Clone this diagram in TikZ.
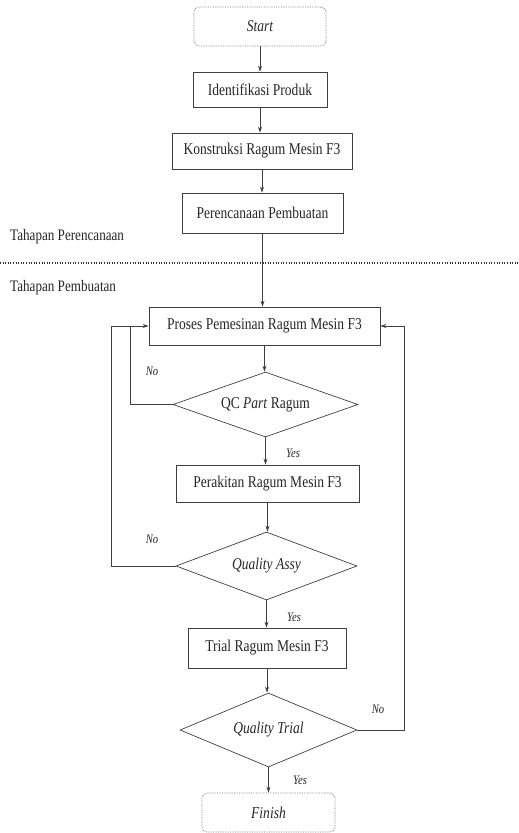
\documentclass[tikz,border=0pt]{standalone}
\usepackage{fontspec}
\setmainfont[FakeStretch=0.82]{Liberation Serif}
\usetikzlibrary{shapes.geometric,arrows.meta}
\begin{document}
\begin{tikzpicture}[x=1pt,y=-1pt,
  every node/.style={text=black!85},
  box/.style={draw=black!75,line width=0.7pt,inner sep=0pt,font=\fontsize{16.5}{18}\selectfont},
  term/.style={box,rounded corners=5pt,draw=black!55,densely dotted},
  dec/.style={box,diamond,aspect=2.8},
  lbl/.style={font=\fontsize{13}{14}\selectfont\itshape,inner sep=0pt},
  side/.style={font=\fontsize{16}{18}\selectfont,inner sep=0pt,anchor=west},
  flow/.style={draw=black!75,line width=0.7pt,-{Stealth[length=6pt,width=4pt]}},
  plain/.style={draw=black!75,line width=0.7pt}]
\useasboundingbox (0,0) rectangle (519,833);
% nodes
\node[term,minimum width=132pt,minimum height=39pt] (start) at (260,26.5) {\itshape Start};
\node[box,minimum width=134pt,minimum height=35pt] (iden) at (260,89.5) {Identifikasi Produk};
\node[box,minimum width=180pt,minimum height=36pt] (kons) at (262,151) {Konstruksi Ragum Mesin F3};
\node[box,minimum width=161pt,minimum height=40pt] (renc) at (262.5,213) {Perencanaan Pembuatan};
\node[box,minimum width=231pt,minimum height=38pt] (pros) at (264.5,326) {Proses Pemesinan Ragum Mesin F3};
\node[dec,minimum width=185pt,minimum height=65pt] (qc) at (265.5,404.5) {QC \textit{Part} Ragum};
\node[box,minimum width=183pt,minimum height=37pt] (rak) at (267.5,483.5) {Perakitan Ragum Mesin F3};
\node[dec,minimum width=181pt,minimum height=68pt] (assy) at (266.5,566) {\itshape Quality Assy};
\node[box,minimum width=158pt,minimum height=40pt] (trial) at (267,648) {Trial Ragum Mesin F3};
\node[dec,minimum width=177pt,minimum height=74pt] (qt) at (268.5,730) {\itshape Quality Trial};
\node[term,minimum width=133pt,minimum height=39pt] (fin) at (268.5,812.5) {\itshape Finish};
% stage labels and divider
\node[side] (tp1) at (10,237) {Tahapan Perencanaan};
\node[side] (tp2) at (10,288) {Tahapan Pembuatan};
\coordinate (dl) at (0,263);
\coordinate (dr) at (519,263);
\draw[black!80,line width=1.1pt,dash pattern=on 1pt off 1.6pt] (dl) -- (dr);
% main flow (kept vertical)
\draw[flow] (start.south) -- (start.south |- iden.north);
\draw[flow] (iden.south) -- (iden.south |- kons.north);
\draw[flow] (kons.south) -- (kons.south |- renc.north);
\draw[flow] (renc.south) -- (renc.south |- pros.north);
\draw[flow] (pros.south) -- (pros.south |- qc.north);
\draw[flow] (qc.south) -- (qc.south |- rak.north);
\draw[flow] (rak.south) -- (rak.south |- assy.north);
\draw[flow] (assy.south) -- (assy.south |- trial.north);
\draw[flow] (trial.south) -- (trial.south |- qt.north);
\draw[flow] (qt.south) -- (qt.south |- fin.north);
% loops
\coordinate (li) at (130,326);
\coordinate (lo) at (111,326);
\coordinate (ro) at (404,326);
\draw[plain] (qc.west) -| (li);
\draw[flow] (assy.west) -| (lo) -- (pros.west);
\draw[flow] (qt.east) -| (ro) -- (pros.east);
% labels
\node[lbl] (n1) at (152,371) {No};
\node[lbl] (n2) at (152,539) {No};
\node[lbl] (n3) at (378,709) {No};
\node[lbl] (y1) at (293,453) {Yes};
\node[lbl] (y2) at (294,617) {Yes};
\node[lbl] (y3) at (300,780) {Yes};
\end{tikzpicture}
\end{document}
